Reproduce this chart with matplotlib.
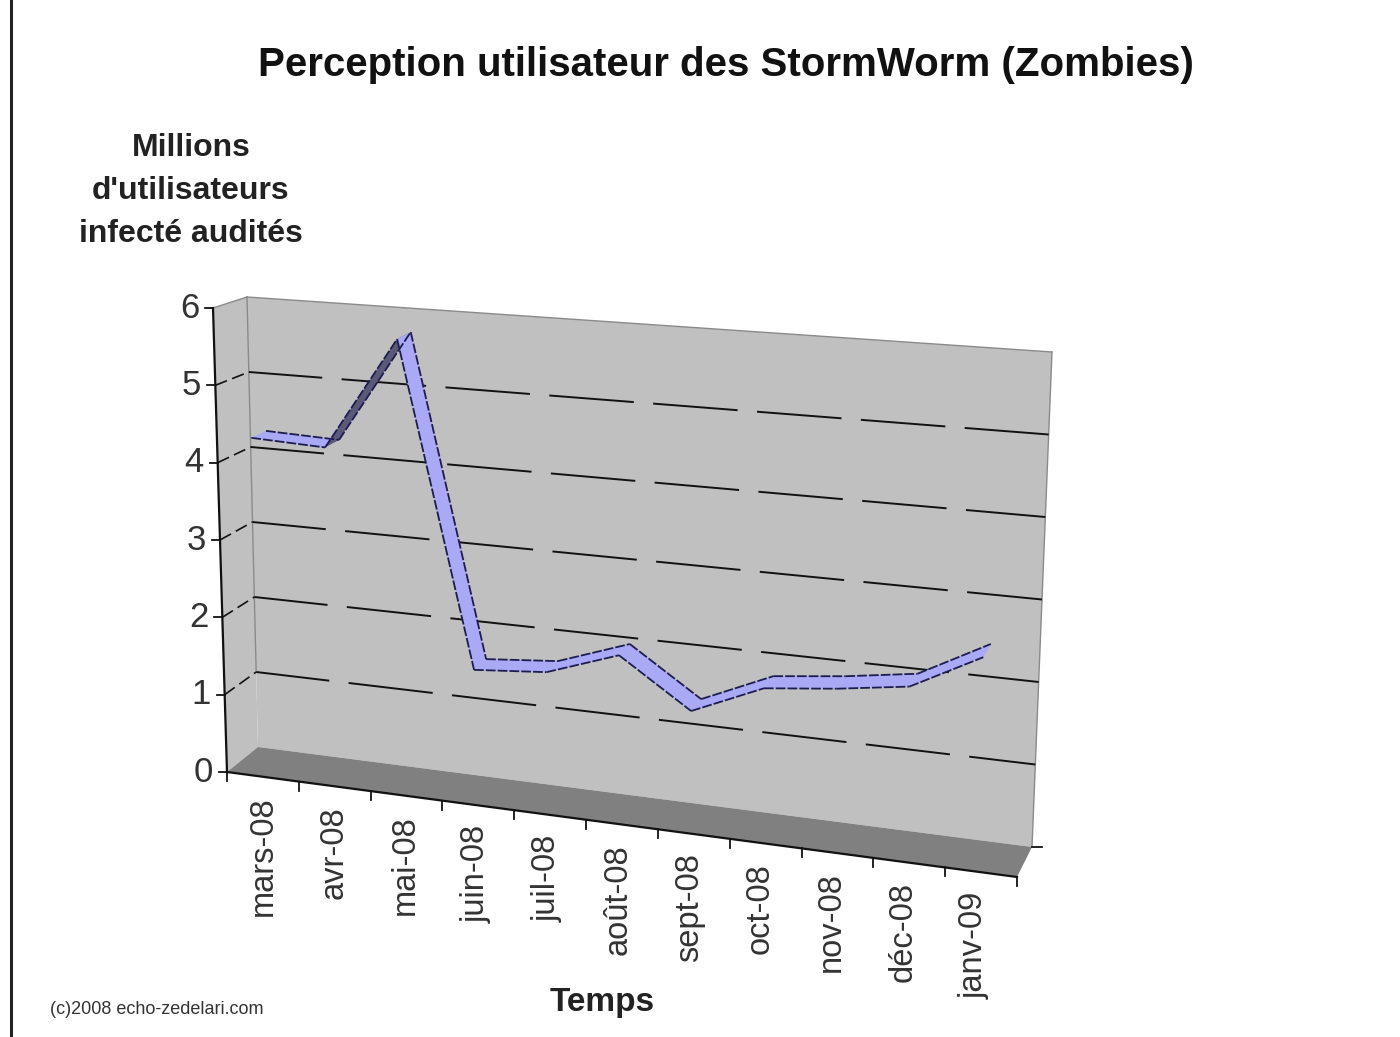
import numpy as np
import matplotlib
matplotlib.use("Agg")
import matplotlib.pyplot as plt

plt.rcParams['font.family'] = ['Liberation Sans', 'DejaVu Sans']
plt.rcParams['lines.scale_dashes'] = False

mois = ["mars-08", "avr-08", "mai-08", "juin-08", "juil-08", "août-08",
        "sept-08", "oct-08", "nov-08", "déc-08", "janv-09"]
utilisateurs = [4.33, 4.30, 5.78, 1.66, 1.74, 2.06, 1.47, 1.86, 1.96, 2.09, 2.55]
graduations = [0, 1, 2, 3, 4, 5, 6]

titre = "Perception utilisateur des StormWorm (Zombies)"
titre_y = "Millions\nd'utilisateurs\ninfecté audités"
titre_x = "Temps"
credit = "(c)2008 echo-zedelari.com"

# corners of the fake 3d box, in image pixels (left/right, value 0/6)
FRONT = {"l0": (227, 772), "l6": (213, 308), "r0": (1017, 877), "r6": (1035, 382)}
BACK = {"l0": (258, 747), "l6": (247, 297), "r0": (1032, 847), "r6": (1052, 352)}


def project(cat, val, depth):
    # cat = month index, val = millions, depth = 0 at the front, 1 at the back
    cat = np.asarray(cat, dtype=float)
    val = np.asarray(val, dtype=float)
    u = (cat + 0.5) / len(mois)
    v = val / 6
    out = []
    for k in range(2):
        pts = []
        for box in (FRONT, BACK):
            left = box["l0"][k] * (1 - v) + box["l6"][k] * v
            right = box["r0"][k] * (1 - v) + box["r6"][k] * v
            pts.append(left * (1 - u) + right * u)
        out.append(pts[0] * (1 - depth) + pts[1] * depth)
    return out[0], out[1]


fig = plt.figure(figsize=(14, 10.37), dpi=100)
ax = fig.add_axes([0, 0, 1, 1])
ax.set_xlim(0, 1400)
ax.set_ylim(1037, 0)
ax.axis("off")

ax.axvline(11, color="#222222", lw=2.2)

first, last = -0.5, len(mois) - 0.5
top, bottom = graduations[-1], graduations[0]


def quad(c0, v0, d0, c1, v1, d1, c2, v2, d2, c3, v3, d3, **kw):
    xs, ys = [], []
    for c, v, d in ((c0, v0, d0), (c1, v1, d1), (c2, v2, d2), (c3, v3, d3)):
        x, y = project(c, v, d)
        xs.append(float(x))
        ys.append(float(y))
    ax.fill(xs, ys, **kw)


# walls and floor
quad(first, bottom, 1, last, bottom, 1, last, top, 1, first, top, 1,
     color="#c0c0c0", lw=0, zorder=1)
quad(first, bottom, 0, first, bottom, 1, first, top, 1, first, top, 0,
     color="#c0c0c0", lw=0, zorder=1)
quad(first, bottom, 0, last, bottom, 0, last, bottom, 1, first, bottom, 1,
     color="#808080", lw=0, zorder=2)

# thin wall edges
for c, d0, d1, v0, v1 in ((first, 1, 1, 1, top), (last, 1, 1, bottom, top),
                          (first, 0, 1, top, top)):
    x0, y0 = project(c, v0, d0)
    x1, y1 = project(c, v1, d1)
    ax.plot([x0, x1], [y0, y1], color="#8a8a8a", lw=1, zorder=3)
x0, y0 = project(first, top, 1)
x1, y1 = project(last, top, 1)
ax.plot([x0, x1], [y0, y1], color="#8a8a8a", lw=1, zorder=3)

# dashed grid lines
for g in graduations[1:-1]:
    x0, y0 = project(first, g, 0)
    x1, y1 = project(first, g, 1)
    ax.plot([x0, x1], [y0, y1], color="#111111", lw=1.2, zorder=3,
            linestyle=(0, (9, 4)))
    x2, y2 = project(last, g, 1)
    ax.plot([x1, x2], [y1, y2], color="#111111", lw=1.4, zorder=3,
            linestyle=(8, (61, 14)))

# front axis with its ticks and labels
x0, y0 = project(first, bottom, 0)
x1, y1 = project(first, top, 0)
ax.plot([x0, x1], [y0, y1], color="#111111", lw=1.6, zorder=4)
for g in graduations:
    x, y = project(first, g, 0)
    ax.plot([x - 8, x], [y, y], color="#111111", lw=1.3, zorder=4)
    ax.text(x - 14, y, str(g), ha="right", va="center", fontsize=25,
            color="#333333", zorder=5)

# floor edge, month ticks and labels
x0, y0 = project(first, bottom, 0)
x1, y1 = project(last, bottom, 0)
ax.plot([x0, x1], [y0, y1], color="#111111", lw=1.6, zorder=4)
for i in range(len(mois) + 1):
    x, y = project(i - 0.5, bottom, 0)
    ax.plot([x, x], [y, y + 9], color="#111111", lw=1.3, zorder=4)
x, y = project(last, bottom, 1)
ax.plot([x, x + 10], [y, y], color="#111111", lw=1.3, zorder=4)
for i, m in enumerate(mois):
    x, y = project(i * 0.99, bottom, 0)
    ax.text(x, y + 20, m, rotation=90, ha="center", va="top", fontsize=23.5,
            color="#333333", zorder=5)

# the series, drawn as a ribbon between two depths
D0, D1 = 0.15, 0.6
DECALAGE = 0.1
for i in range(len(mois) - 1):
    a, b = utilisateurs[i], utilisateurs[i + 1]
    xa0, ya0 = project(i - DECALAGE, a, D0)
    xb0, yb0 = project(i + 1 - DECALAGE, b, D0)
    xb1, yb1 = project(i + 1 - DECALAGE, b, D1)
    xa1, ya1 = project(i - DECALAGE, a, D1)
    couleur = "#5a5a78" if b - a > 1 else "#a9a9f5"
    ax.fill([xa0, xb0, xb1, xa1], [ya0, yb0, yb1, ya1], color=couleur, lw=0, zorder=6)
    ax.plot([xa0, xb0], [ya0, yb0], color="#1c1c50", lw=1.3, zorder=7,
            linestyle=(0, (7, 1.5)))
    ax.plot([xa1, xb1], [ya1, yb1], color="#1c1c50", lw=1.3, zorder=7,
            linestyle=(0, (7, 1.5)))

ax.text(726, 65, titre, ha="center", va="center", fontsize=29, fontweight="bold",
        color="#111111")
ax.text(191, 191, titre_y, ha="center", va="center", fontsize=23, fontweight="bold",
        color="#222222", linespacing=1.55)
ax.text(602, 1002, titre_x, ha="center", va="center", fontsize=24, fontweight="bold",
        color="#222222")
ax.text(50, 1010, credit, ha="left", va="center", fontsize=13, color="#333333")

fig.savefig("out.png", dpi=100)
